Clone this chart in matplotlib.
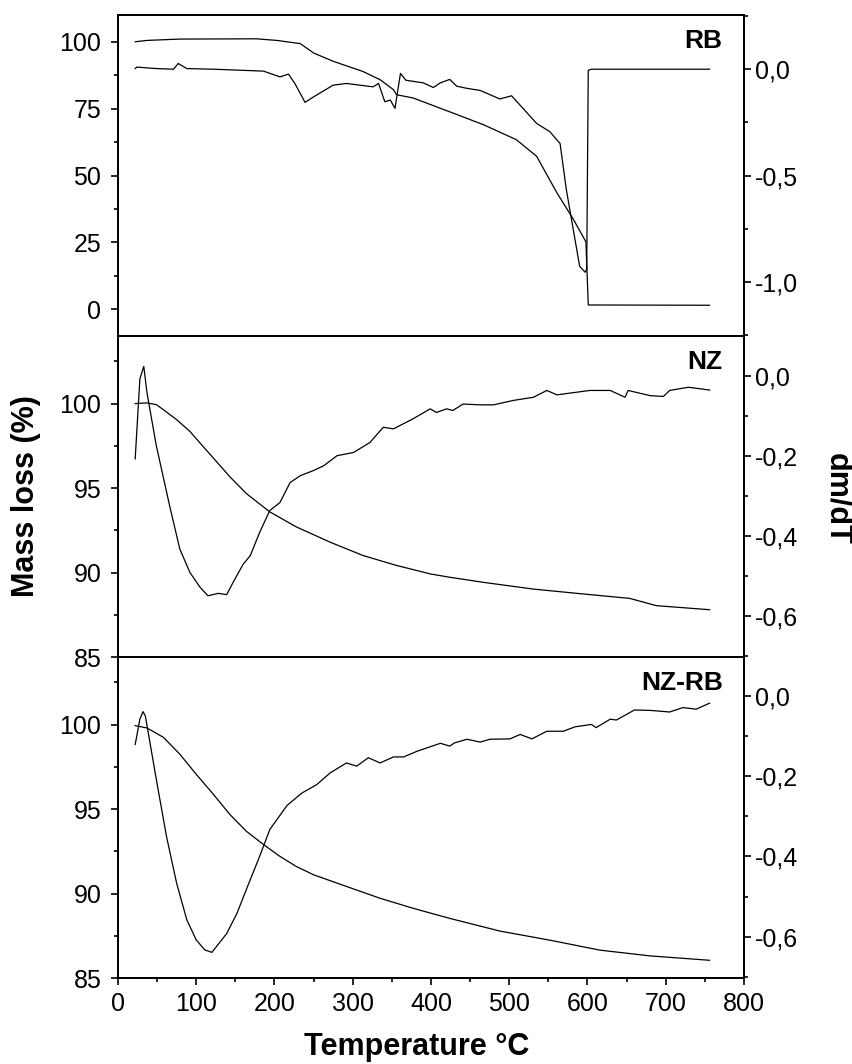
import matplotlib
matplotlib.use('Agg')
import matplotlib.pyplot as plt
from matplotlib.ticker import MultipleLocator, FuncFormatter

plt.rcParams['font.family'] = ['Liberation Sans', 'DejaVu Sans']

# --- RB ---
rb_t_tg = [22, 37, 79, 177, 203, 233, 250, 275, 313, 335, 352, 356, 377, 424, 467,
           509, 535, 561, 582, 598, 601, 756]
rb_tg = [100, 100.5, 101, 101.1, 100.5, 99.3, 95.8, 92.7, 88.9, 85.8, 82.1, 80.2, 79,
         73.8, 69, 63.4, 57.2, 43.5, 33.6, 25.2, 1.6, 1.5]
rb_t_dtg = [22, 24, 49, 71, 77, 88, 122, 186, 207, 218, 226, 233, 239, 250, 275, 292,
            309, 326, 333, 341, 348, 354, 361, 368, 390, 403, 412, 424, 433, 446, 463,
            488, 503, 535, 552, 565, 573, 590, 597, 599, 601, 605, 756]
rb_dtg = [0.003, 0.01, 0.003, 0.0, 0.027, 0.003, 0.0, -0.009, -0.036, -0.023, -0.067,
          -0.114, -0.156, -0.13, -0.075, -0.067, -0.075, -0.083, -0.067, -0.153, -0.145,
          -0.184, -0.02, -0.052, -0.064, -0.086, -0.064, -0.048, -0.08, -0.09, -0.10,
          -0.14, -0.125, -0.255, -0.294, -0.35, -0.567, -0.927, -0.955, -0.94, -0.005,
          0.0, 0.0]

# --- NZ ---
nz_t_tg = [22, 37, 49, 58, 75, 92, 105, 143, 164, 194, 228, 271, 313, 356, 399, 424,
           467, 531, 595, 654, 688, 756]
nz_tg = [100.0, 100.04, 99.94, 99.64, 99.05, 98.35, 97.66, 95.67, 94.68, 93.59, 92.70,
         91.80, 91.01, 90.42, 89.92, 89.72, 89.42, 89.02, 88.73, 88.47, 88.04, 87.80]
nz_t_dtg = [22, 28, 33, 37, 49, 66, 79, 92, 105, 115, 128, 139, 147, 160, 169, 181,
            194, 207, 220, 233, 250, 263, 280, 301, 322, 339, 352, 377, 399, 407, 420,
            428, 441, 463, 480, 505, 531, 548, 561, 603, 629, 648, 652, 680, 697, 705,
            729, 756]
nz_dtg = [-0.208, -0.008, 0.023, -0.042, -0.175, -0.325, -0.433, -0.492, -0.529, -0.55,
          -0.544, -0.547, -0.517, -0.471, -0.45, -0.392, -0.337, -0.317, -0.267, -0.25,
          -0.237, -0.225, -0.2, -0.192, -0.167, -0.129, -0.133, -0.108, -0.083, -0.092,
          -0.083, -0.087, -0.071, -0.073, -0.073, -0.062, -0.054, -0.037, -0.048, -0.037,
          -0.037, -0.054, -0.037, -0.05, -0.052, -0.037, -0.029, -0.036]

# --- NZ-RB ---
nzrb_t_tg = [22, 37, 58, 79, 100, 122, 143, 164, 186, 207, 228, 250, 292, 335, 377,
             424, 488, 552, 616, 680, 756]
nzrb_tg = [99.94, 99.80, 99.25, 98.25, 97.06, 95.87, 94.68, 93.69, 92.90, 92.20, 91.60,
           91.11, 90.42, 89.72, 89.13, 88.53, 87.78, 87.24, 86.65, 86.31, 86.05]
nzrb_t_dtg = [22, 28, 32, 35, 49, 62, 75, 88, 100, 111, 120, 139, 152, 169, 181, 194,
              216, 235, 254, 271, 292, 305, 320, 335, 352, 365, 382, 412, 424, 430, 446,
              463, 475, 501, 514, 529, 548, 569, 584, 605, 611, 629, 637, 660, 680, 705,
              722, 739, 756]
nzrb_dtg = [-0.121, -0.058, -0.039, -0.05, -0.208, -0.35, -0.467, -0.558, -0.608, -0.633,
            -0.639, -0.592, -0.542, -0.458, -0.4, -0.333, -0.273, -0.242, -0.221, -0.192,
            -0.167, -0.175, -0.154, -0.167, -0.152, -0.152, -0.138, -0.118, -0.125,
            -0.117, -0.108, -0.115, -0.108, -0.107, -0.096, -0.107, -0.088, -0.088,
            -0.077, -0.071, -0.079, -0.058, -0.06, -0.035, -0.036, -0.04, -0.029, -0.033,
            -0.018]

panels = [
    ('RB', rb_t_tg, rb_tg, rb_t_dtg, rb_dtg),
    ('NZ', nz_t_tg, nz_tg, nz_t_dtg, nz_dtg),
    ('NZ-RB', nzrb_t_tg, nzrb_tg, nzrb_t_dtg, nzrb_dtg),
]
left_lims = [(-10, 110), (85, 104), (85, 104)]
left_major = [25, 5, 5]
right_lims = [(-1.255, 0.255), (-0.703, 0.099), (-0.703, 0.097)]
right_major = [0.5, 0.2, 0.2]

# decimal comma on the dm/dT axis
comma = FuncFormatter(lambda v, p: ('%.1f' % v).replace('.', ',').replace('-0,0', '0,0'))

fig = plt.figure(figsize=(8.53, 10.64), dpi=100)
gs = fig.add_gridspec(3, 1, left=0.1383, right=0.8722, top=0.9859, bottom=0.0808, hspace=0)

lw = 0.9
for i, (name, t1, tg, t2, dtg) in enumerate(panels):
    ax = fig.add_subplot(gs[i])
    ax2 = ax.twinx()
    ax.plot(t1, tg, color='black', linewidth=lw)
    ax2.plot(t2, dtg, color='black', linewidth=lw)

    ax.set_xlim(0, 800)
    ax.set_ylim(*left_lims[i])
    ax2.set_ylim(*right_lims[i])

    ax.yaxis.set_major_locator(MultipleLocator(left_major[i]))
    ax.yaxis.set_minor_locator(MultipleLocator(left_major[i] / 2))
    ax2.yaxis.set_major_locator(MultipleLocator(right_major[i]))
    ax2.yaxis.set_minor_locator(MultipleLocator(right_major[i] / 2))
    ax2.yaxis.set_major_formatter(comma)

    if i < 2:
        ax.xaxis.set_major_locator(MultipleLocator(150))
        ax.tick_params(axis='x', labelbottom=False)
    else:
        ax.xaxis.set_major_locator(MultipleLocator(100))
        ax.xaxis.set_minor_locator(MultipleLocator(50))

    for a in (ax, ax2):
        a.tick_params(which='major', direction='out', length=5, width=1.2, labelsize=18)
        a.tick_params(which='minor', direction='out', length=3, width=1.2)
        for s in a.spines.values():
            s.set_linewidth(1.3)
    ax.tick_params(axis='y', which='major', pad=7)
    ax2.tick_params(axis='y', which='major', pad=3)
    ax.tick_params(axis='x', which='major', pad=5)

    ax.text(0.966, 0.92, name, transform=ax.transAxes, ha='right', va='center',
            fontsize=19, fontweight='bold')

fig.text(0.030, 0.534, 'Mass loss (%)', rotation=90, ha='center', va='center',
         fontsize=22, fontweight='bold')
fig.text(0.981, 0.531, 'dm/dT', rotation=270, ha='center', va='center',
         fontsize=22, fontweight='bold')
fig.text(0.489, 0.008, 'Temperature °C', ha='center', va='baseline',
         fontsize=22, fontweight='bold')

plt.savefig('out.png', dpi=100)
